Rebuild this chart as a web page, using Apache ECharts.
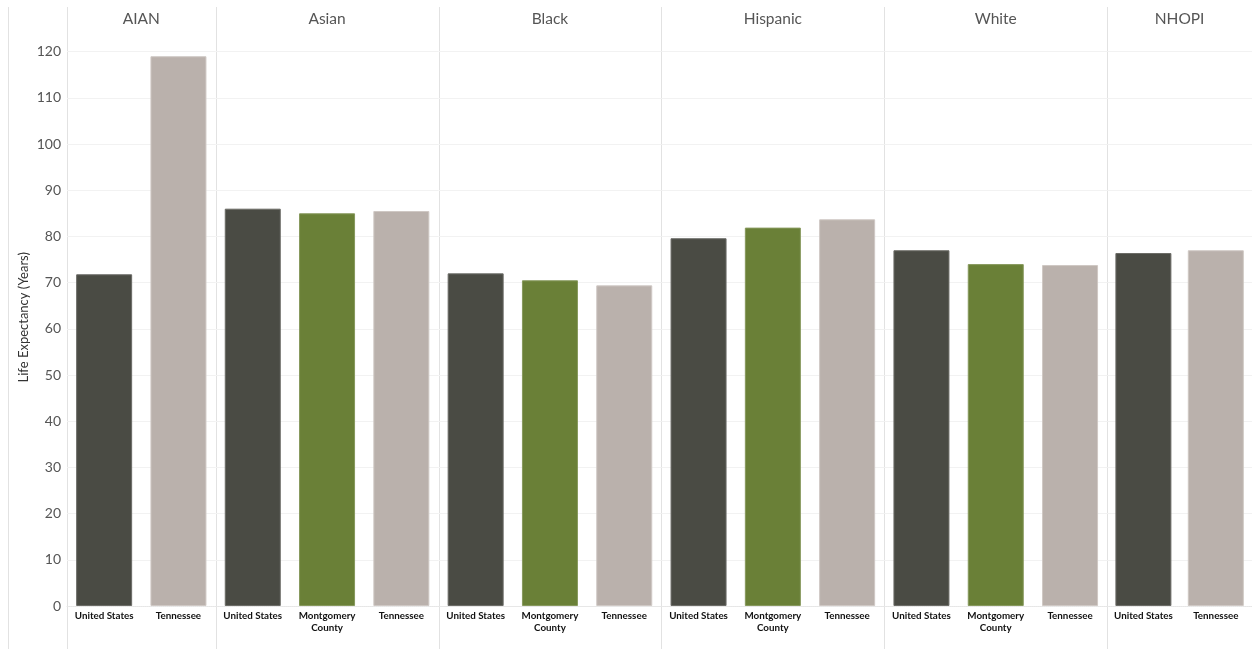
<!DOCTYPE html>
<html>
<head>
<meta charset="utf-8">
<script src="https://cdn.jsdelivr.net/npm/echarts@6/dist/echarts.min.js"></script>
<style>html,body{margin:0;padding:0;background:#fff;}#c{width:1252px;height:649px;}</style>
</head>
<body>
<div id="c"></div>
<script>
// ---- data ----
const groups = ['AIAN', 'Asian', 'Black', 'Hispanic', 'White', 'NHOPI'];
const regionsAIAN = ['United States', 'Tennessee'];
const regionsAsian = ['United States', 'Montgomery County', 'Tennessee'];
const regionsBlack = ['United States', 'Montgomery County', 'Tennessee'];
const regionsHispanic = ['United States', 'Montgomery County', 'Tennessee'];
const regionsWhite = ['United States', 'Montgomery County', 'Tennessee'];
const regionsNHOPI = ['United States', 'Tennessee'];
const valuesAIAN = [71.8, 119.0];
const valuesAsian = [86.0, 85.0, 85.5];
const valuesBlack = [72.0, 70.5, 69.4];
const valuesHispanic = [79.6, 81.9, 83.7];
const valuesWhite = [77.0, 74.0, 73.8];
const valuesNHOPI = [76.4, 77.0];
const yTicks = [0, 10, 20, 30, 40, 50, 60, 70, 80, 90, 100, 110, 120];

const regionColors = {
  'United States': '#4a4b44',
  'Montgomery County': '#6a8037',
  'Tennessee': '#bab1ac'
};
const regionBorders = {
  'United States': '#6b6b66',
  'Montgomery County': '#86985c',
  'Tennessee': '#cfc8c4'
};

const panelRegions = [regionsAIAN, regionsAsian, regionsBlack, regionsHispanic, regionsWhite, regionsNHOPI];
const panelValues = [valuesAIAN, valuesAsian, valuesBlack, valuesHispanic, valuesWhite, valuesNHOPI];

// ---- layout ----
const FONT = 'Lato, "Open Sans", sans-serif';
const plotLeft = 67;
const slot = 74.3;
const gridTop = 28.5;
const gridBottom = 43;
const yMax = 125;

const grids = [], xAxes = [], yAxes = [], series = [], graphics = [];
let offset = 0;
const boundaries = [8, plotLeft];

panelRegions.forEach((regs, i) => {
  const left = plotLeft + slot * offset;
  const width = slot * regs.length;
  grids.push({ left: left, top: gridTop, width: width, bottom: gridBottom, containLabel: false });
  // bottom category axis
  xAxes.push({
    type: 'category', gridIndex: i, position: 'bottom',
    data: regs,
    axisLine: { show: true, lineStyle: { color: '#e6e6e6', type: 'dotted' } },
    axisTick: { show: false },
    axisLabel: {
      interval: 0, margin: 4, color: '#111', fontFamily: FONT, fontWeight: 'bold', fontSize: 9.8,
      lineHeight: 12, formatter: v => v.replace(' County', '\nCounty')
    }
  });
  // top header axis
  xAxes.push({
    type: 'category', gridIndex: i, position: 'top',
    data: [groups[i]],
    axisLine: { show: false }, axisTick: { show: false },
    axisLabel: { interval: 0, margin: 2, color: '#555', fontFamily: FONT, fontSize: 15.5 }
  });
  yAxes.push({
    type: 'value', gridIndex: i, min: 0, max: yMax, interval: 10,
    axisLine: { show: false }, axisTick: { show: false },
    splitLine: { show: true, showMaxLine: false, lineStyle: { color: '#f2f2f2', width: 1 } },
    axisLabel: {
      show: i === 0, margin: 6, color: '#555', fontFamily: FONT, fontSize: 14,
      formatter: v => (yTicks.indexOf(v) >= 0 ? String(v) : '')
    },
    name: i === 0 ? 'Life Expectancy (Years)' : '',
    nameLocation: 'middle', nameGap: 37,
    nameTextStyle: { color: '#333', fontFamily: FONT, fontSize: 13 }
  });
  series.push({
    type: 'bar', xAxisIndex: i * 2, yAxisIndex: i,
    barWidth: 56,
    data: panelValues[i].map((v, k) => ({
      value: v,
      itemStyle: { color: regionColors[regs[k]], borderColor: regionBorders[regs[k]], borderWidth: 1 }
    })),
    silent: true
  });
  offset += regs.length;
  boundaries.push(plotLeft + slot * offset);
});

boundaries.forEach(x => {
  if (x < 1252) {
    graphics.push({
      type: 'line', shape: { x1: Math.round(x) + 0.5, y1: 7, x2: Math.round(x) + 0.5, y2: 649 },
      style: { stroke: '#e2e2e2', lineWidth: 1 }, z: 0
    });
  }
});

const chart = echarts.init(document.getElementById('c'), null, { renderer: 'canvas' });
chart.setOption({
  animation: false,
  backgroundColor: '#fff',
  grid: grids,
  xAxis: xAxes,
  yAxis: yAxes,
  series: series,
  graphic: graphics
});
</script>
</body>
</html>
